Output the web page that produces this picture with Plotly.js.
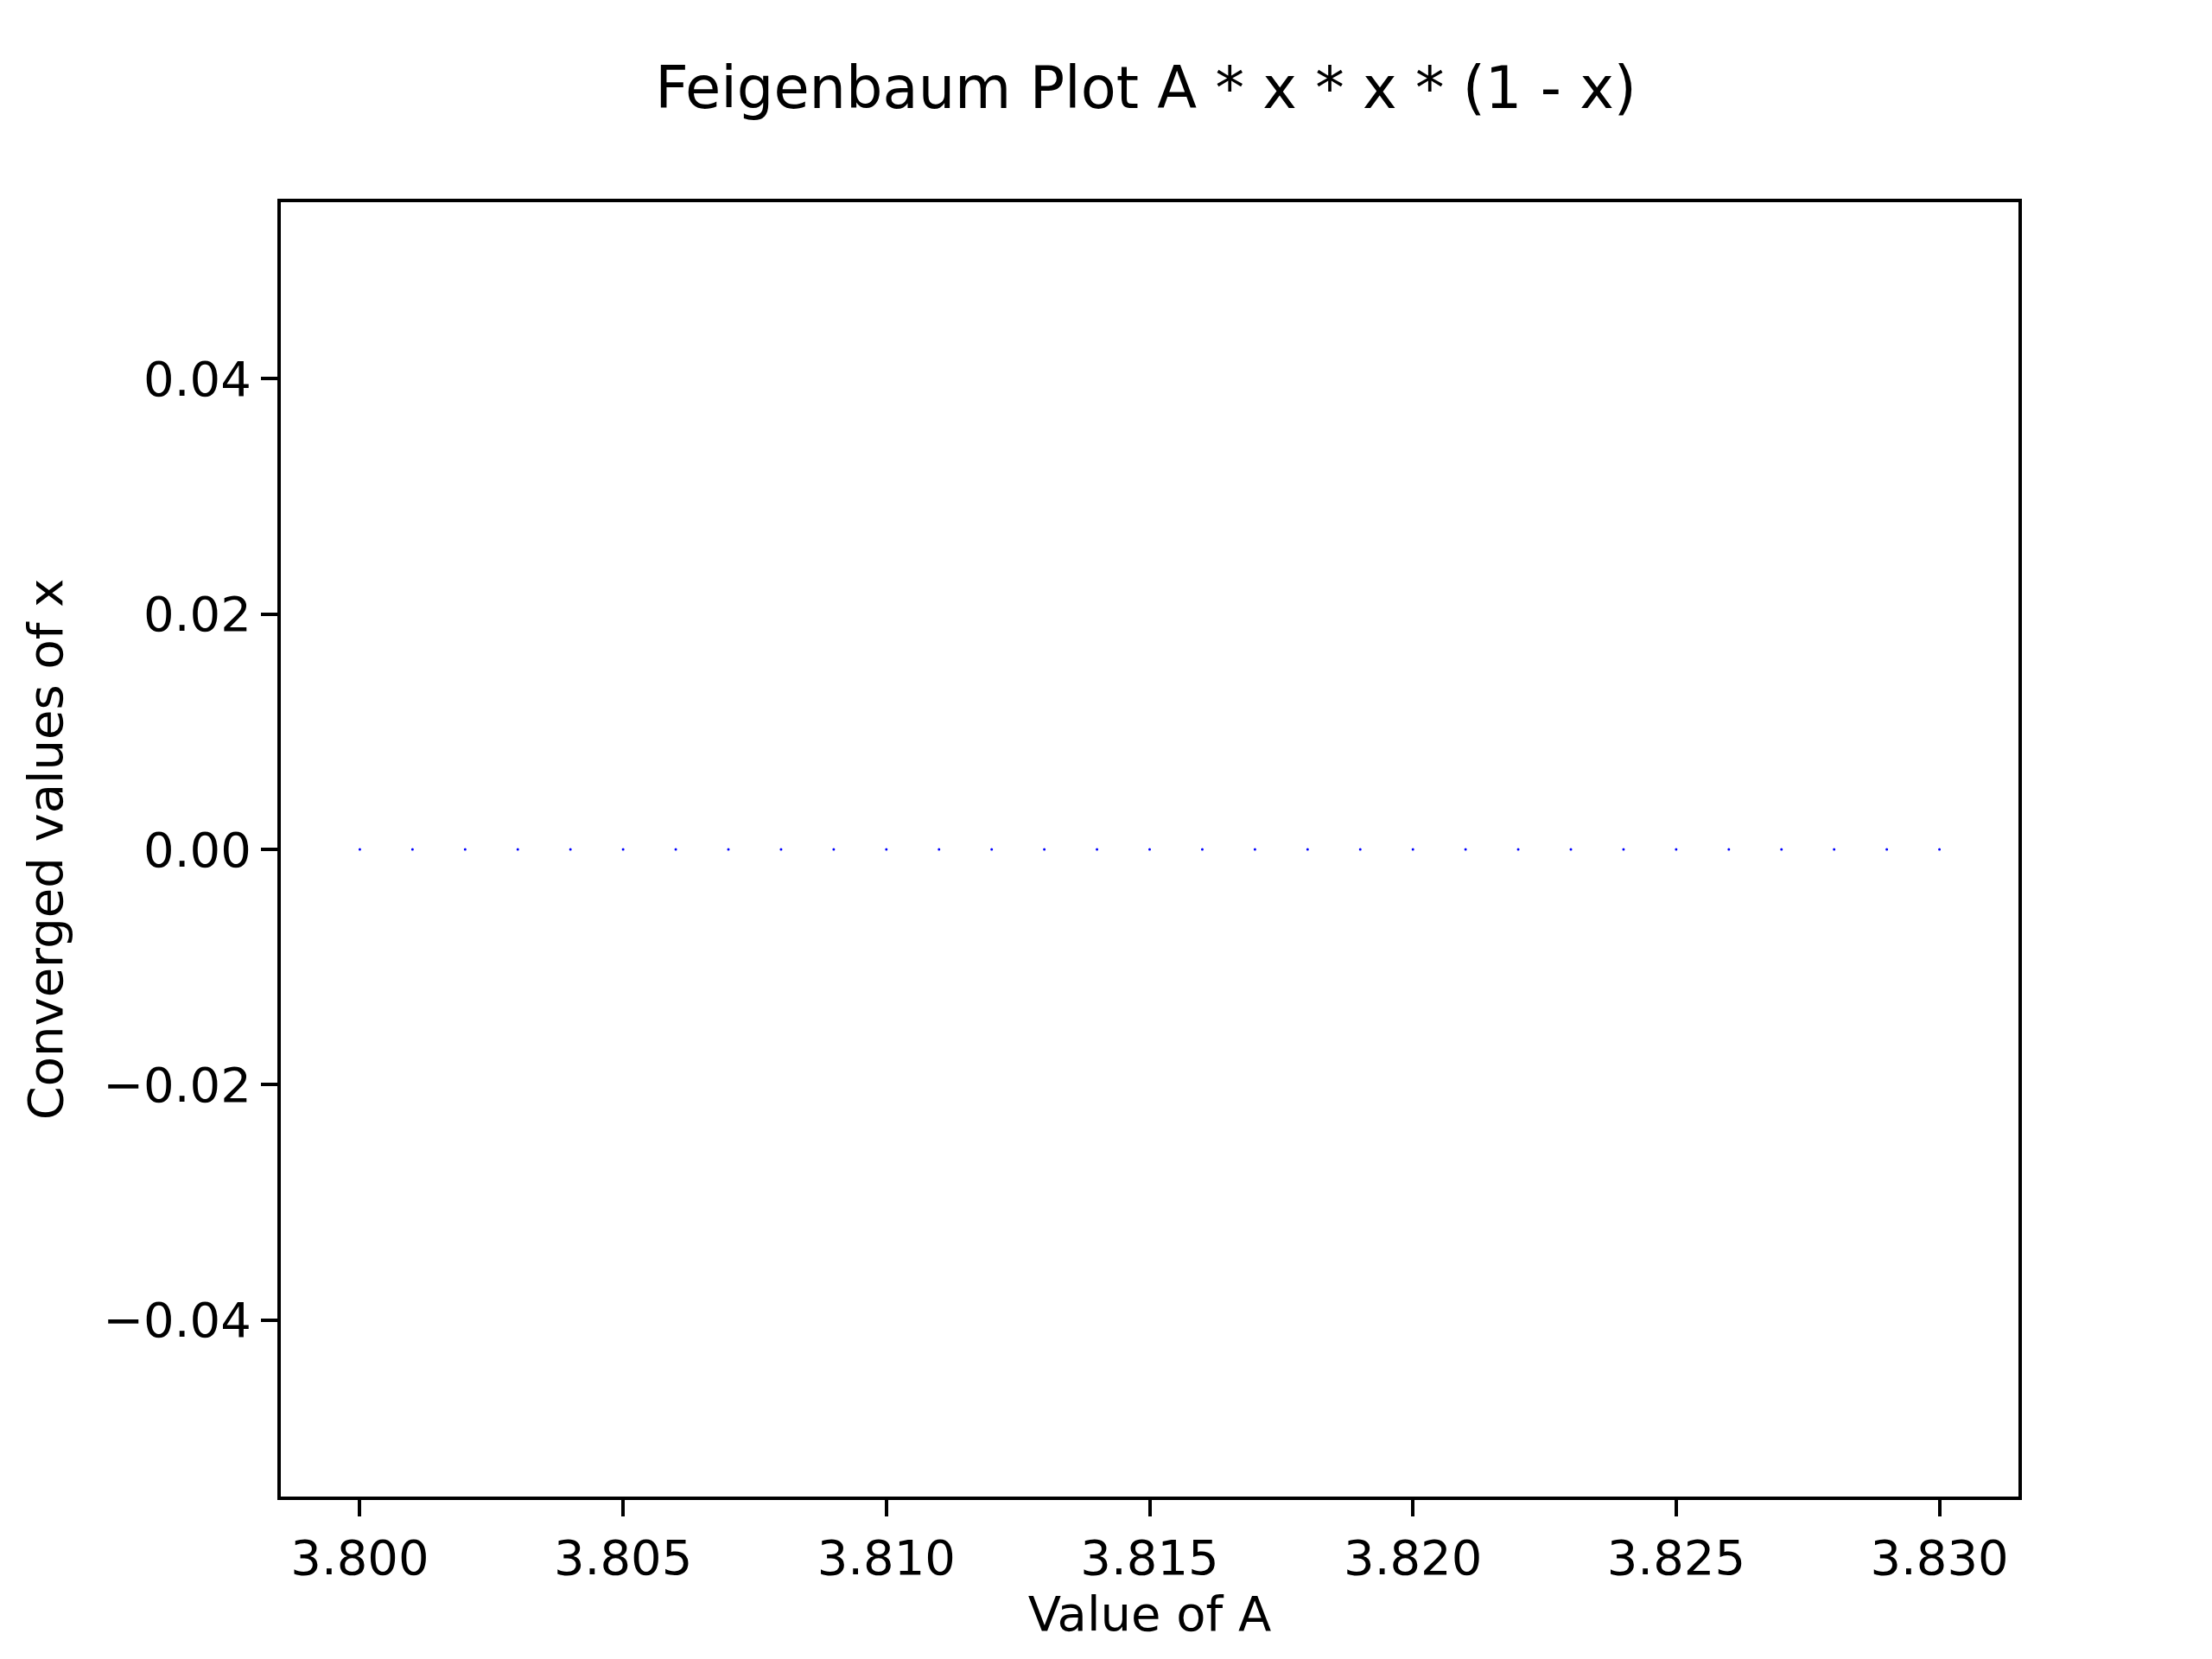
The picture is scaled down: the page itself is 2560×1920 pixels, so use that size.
<!DOCTYPE html>
<html><head><meta charset="utf-8">
<script src="https://cdn.plot.ly/plotly-3.0.1.min.js"></script>
<style>body{margin:0;background:#fff}</style></head>
<body><div id="c" style="width:2560px;height:1920px"></div>
<script>
const aValues = [3.800,3.801,3.802,3.803,3.804,3.805,3.806,3.807,3.808,3.809,3.810,3.811,3.812,3.813,3.814,3.815,3.816,3.817,3.818,3.819,3.820,3.821,3.822,3.823,3.824,3.825,3.826,3.827,3.828,3.829,3.830];
const xValues = aValues.map(() => 0);
const xTicks = [3.800,3.805,3.810,3.815,3.820,3.825,3.830];
const xTickLabels = ["3.800","3.805","3.810","3.815","3.820","3.825","3.830"];
const yTicks = [-0.04,-0.02,0,0.02,0.04];
const yTickLabels = ["\u22120.04","\u22120.02","0.00","0.02","0.04"];
const font = {family:"DejaVu Sans", size:56, color:"#000"};
const ax = {showgrid:false, zeroline:false, showline:true, mirror:true, linecolor:"#000", linewidth:4,
  ticks:"outside", ticklen:19, tickwidth:4, tickcolor:"#000", tickfont:font};
Plotly.newPlot("c", [{x:aValues, y:xValues, type:"scatter", mode:"markers",
  marker:{color:"#0000ff", size:3}}], {
  width:2560, height:1920, paper_bgcolor:"#fff", plot_bgcolor:"#fff", showlegend:false,
  margin:{l:325, r:224, t:234, b:188},
  title:{text:"Feigenbaum Plot A * x * x * (1 - x)", font:{family:"DejaVu Sans", size:67, color:"#000"}, x:0.518, xanchor:"center", y:0.947, yanchor:"middle"},
  xaxis:Object.assign({}, ax, {range:[3.7985,3.8315], tickvals:xTicks, ticktext:xTickLabels,
    title:{text:"Value of A", font:font, standoff:10}}),
  yaxis:Object.assign({}, ax, {range:[-0.055,0.055], tickvals:yTicks, ticktext:yTickLabels,
    title:{text:"Converged values of x", font:font, standoff:30}})
}, {staticPlot:true});
</script></body></html>
